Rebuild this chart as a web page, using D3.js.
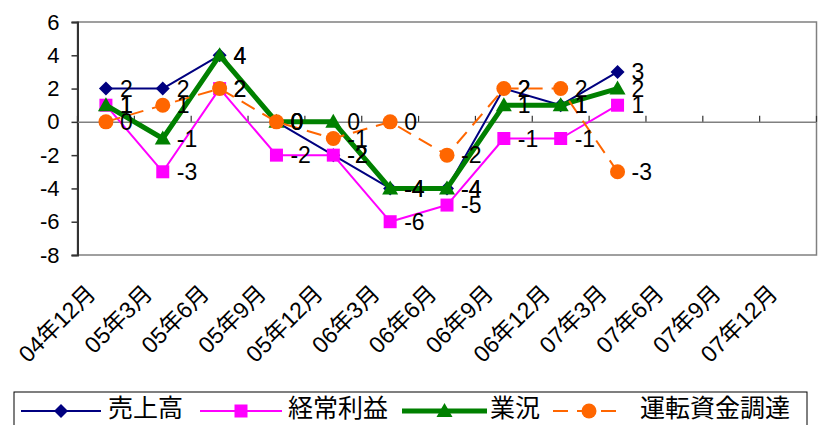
<!DOCTYPE html>
<html>
<head>
<meta charset="utf-8">
<script src="https://cdn.jsdelivr.net/npm/d3@7"></script>
<style>
  body { margin: 0; background: #fff; }
  svg { display: block; font-family: "Liberation Sans", Arial, "Noto Sans CJK JP", sans-serif; }
</style>
</head>
<body>
<svg width="831" height="425"></svg>
<script>
const categories = ["04年12月", "05年3月", "05年6月", "05年9月", "05年12月", "06年3月", "06年6月",
  "06年9月", "06年12月", "07年3月", "07年6月", "07年9月", "07年12月"];
const yTicks = [-8, -6, -4, -2, 0, 2, 4, 6];

const uriage = [2, 2, 4, 0, -2, -4, -4, 2, 1, 3];
const keijo = [1, -3, 2, -2, -2, -6, -5, -1, -1, 1];
const gyokyo = [1, -1, 4, 0, 0, -4, -4, 1, 1, 2];
const shikin = [0, 1, 2, 0, -1, 0, -2, 2, 2, -3];

const series = [
  { name: "売上高", values: uriage, color: "#000080", width: 2, dash: null, marker: "diamond" },
  { name: "経常利益", values: keijo, color: "#ff00ff", width: 2, dash: null, marker: "square" },
  { name: "業況", values: gyokyo, color: "#008000", width: 5, dash: null, marker: "triangle" },
  { name: "運転資金調達", values: shikin, color: "#ff6600", width: 2, dash: "15,9", marker: "circle" }
];

const svg = d3.select("svg");
const plotL = 77.5, plotR = 816.5, plotT = 22, plotB = 255;

const x = d3.scaleBand().domain(categories).range([plotL, plotR]);
const y = d3.scaleLinear().domain([-8, 6]).range([plotB, plotT]);
const cx = c => x(c) + x.bandwidth() / 2;

// plot frame
svg.append("rect")
  .attr("x", plotL).attr("y", plotT)
  .attr("width", plotR - plotL).attr("height", plotB - plotT)
  .attr("fill", "none").attr("stroke", "#808080").attr("stroke-width", 1.5);

// y axis
const yAxis = svg.append("g")
  .attr("transform", `translate(${plotL},0)`)
  .call(d3.axisLeft(y).tickValues(yTicks).tickSize(6).tickPadding(12).tickFormat(d => String(d)));
yAxis.select(".domain").attr("stroke", "#333").attr("stroke-width", 2);
yAxis.selectAll(".tick line").attr("stroke", "#333").attr("stroke-width", 1.5);
yAxis.selectAll("text").attr("font-size", 22).attr("fill", "#000")
  .attr("font-family", "Liberation Sans, Arial, sans-serif");

// category axis at zero
const xAxis = svg.append("g")
  .attr("transform", `translate(0,${y(0)})`)
  .call(d3.axisTop(x).tickSize(0).tickFormat(""));
xAxis.select(".domain").attr("stroke", "#808080").attr("stroke-width", 1.5);
xAxis.selectAll(".tick").remove();
const tickPos = d3.range(categories.length + 1).map(i => plotL + i * x.bandwidth());
svg.append("g").selectAll("line")
  .data(tickPos)
  .join("line")
  .attr("x1", d => d).attr("x2", d => d)
  .attr("y1", y(0) - 6).attr("y2", y(0))
  .attr("stroke", "#333").attr("stroke-width", 1.2);

// category labels
svg.append("g").selectAll("text")
  .data(categories)
  .join("text")
  .attr("transform", d => `translate(${cx(d) - 9},${plotB + 40}) rotate(-45)`)
  .attr("text-anchor", "end")
  .attr("font-size", 23)
  .attr("font-family", "Liberation Sans, Arial, Noto Sans CJK JP, sans-serif")
  .text(d => d);

const line = d3.line()
  .x((d, i) => cx(categories[i]))
  .y(d => y(d));

function drawMarker(g, type, color) {
  if (type === "diamond") {
    g.append("path").attr("d", "M0,-7L7,0L0,7L-7,0Z").attr("fill", color);
  } else if (type === "square") {
    g.append("rect").attr("x", -6.5).attr("y", -6.5).attr("width", 13).attr("height", 13).attr("fill", color);
  } else if (type === "triangle") {
    g.append("path").attr("d", "M0,-8L8,6L-8,6Z").attr("fill", color);
  } else {
    g.append("circle").attr("r", 7.5).attr("fill", color);
  }
}

series.forEach(s => {
  const g = svg.append("g");
  g.append("path")
    .datum(s.values)
    .attr("d", line)
    .attr("fill", "none")
    .attr("stroke", s.color)
    .attr("stroke-width", s.width)
    .attr("stroke-dasharray", s.dash)
    .attr("stroke-linejoin", "round");
  g.selectAll("g.m")
    .data(s.values)
    .join("g")
    .attr("class", "m")
    .attr("transform", (d, i) => `translate(${cx(categories[i])},${y(d)})`)
    .each(function() { drawMarker(d3.select(this), s.marker, s.color); });
});

// data labels
series.forEach(s => {
  svg.append("g").selectAll("text")
    .data(s.values)
    .join("text")
    .attr("x", (d, i) => cx(categories[i]) + 14)
    .attr("y", d => y(d))
    .attr("dy", "0.36em")
    .attr("font-size", 23)
    .text(d => String(d));
});

// legend
const legend = svg.append("g");
legend.append("rect")
  .attr("x", 14).attr("y", 392).attr("width", 793).attr("height", 40)
  .attr("fill", "#fff").attr("stroke", "#000").attr("stroke-width", 1);
const legendItems = [
  { x1: 21, x2: 101, tx: 108 },
  { x1: 200, x2: 282, tx: 288 },
  { x1: 402, x2: 487, tx: 490 },
  { x1: 553, x2: 625, tx: 640 }
];
series.forEach((s, i) => {
  const it = legendItems[i];
  const ly = 411;
  legend.append("line")
    .attr("x1", it.x1).attr("x2", it.x2).attr("y1", ly).attr("y2", ly)
    .attr("stroke", s.color).attr("stroke-width", s.width)
    .attr("stroke-dasharray", s.dash);
  const m = legend.append("g").attr("transform", `translate(${(it.x1 + it.x2) / 2},${ly})`);
  drawMarker(m, s.marker, s.color);
  legend.append("text")
    .attr("x", it.tx).attr("y", 408).attr("dy", "0.36em")
    .attr("font-size", 25)
    .attr("font-family", "Noto Sans CJK JP, sans-serif")
    .text(s.name);
});
</script>
</body>
</html>
